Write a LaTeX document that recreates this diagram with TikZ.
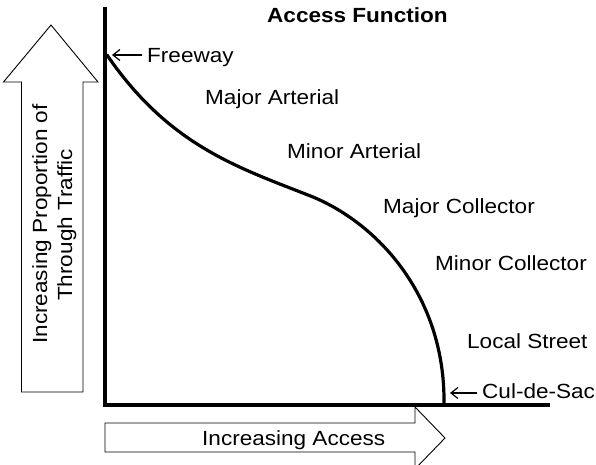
\documentclass[tikz,border=0pt]{standalone}
\usepackage{fontspec}
\setmainfont[FakeStretch=1.1]{Liberation Sans}
\usetikzlibrary{arrows.meta}
\begin{document}
\begin{tikzpicture}[x=1pt,y=-1pt,
  lbl/.style={anchor=base west,inner sep=0pt,font=\fontsize{20.5}{24}\selectfont},
  vlbl/.style={anchor=base,inner sep=0pt,rotate=90,font=\fontsize{20.5}{24}\selectfont},
  ttl/.style={anchor=base west,inner sep=0pt,font=\fontsize{20.5}{24}\selectfont\bfseries},
  blockarrow/.style={draw=black,fill=white,line width=0.9pt,line join=miter},
  axisline/.style={line width=4pt},
  curveline/.style={line width=3.2pt,line cap=round},
  ptr/.style={line width=1.2pt,-{Straight Barb[length=7pt,width=11pt,line width=1.2pt]},shorten <=5pt}]
\useasboundingbox[fill=white] (0,0) rectangle (596,465);

% block arrows along the axes
\draw[blockarrow] (21.5,392) -- (21.5,82) -- (3.5,82) -- (51,25) -- (98,82)
  -- (83,82) -- (83,392) -- cycle;
\draw[blockarrow] (105,423) -- (415,423) -- (415,407) -- (445,438) -- (415,469)
  -- (415,452) -- (105,452) -- cycle;

% axes
\draw[axisline] (105,7) -- (105,407);
\draw[axisline] (103,405) -- (550,405);

% access function curve
\coordinate (fw) at (107,55);
\coordinate (cds) at (444,403);
\draw[curveline] (fw) .. controls (170,147) and (240,168) .. (313,197)
  .. controls (380,225) and (445,298) .. (cds);

% labels
\node[ttl] (title) at (267,23) {Access Function};
\node[lbl] (fwl) at (147,63) {Freeway};
\node[lbl] (maja) at (205,105) {Major Arterial};
\node[lbl] (mina) at (287,159) {Minor Arterial};
\node[lbl] (majc) at (383,213) {Major Collector};
\node[lbl] (minc) at (435,270) {Minor Collector};
\node[lbl] (loc) at (467,348) {Local Street};
\node[lbl] (cdsl) at (482,398) {Cul-de-Sac};
\node[lbl] (acc) at (202,445) {Increasing Access};
\node[vlbl] (vl1) at (47,224) {Increasing Proportion of};
\node[vlbl] (vl2) at (72,225) {Through Traffic};

% pointers to the curve ends
\coordinate (fwtip) at (112,55);
\coordinate (cdstip) at (450,393);
\draw[ptr] (fwl.west |- fwtip) -- (fwtip);
\draw[ptr] (cdsl.west |- cdstip) -- (cdstip);
\end{tikzpicture}
\end{document}
